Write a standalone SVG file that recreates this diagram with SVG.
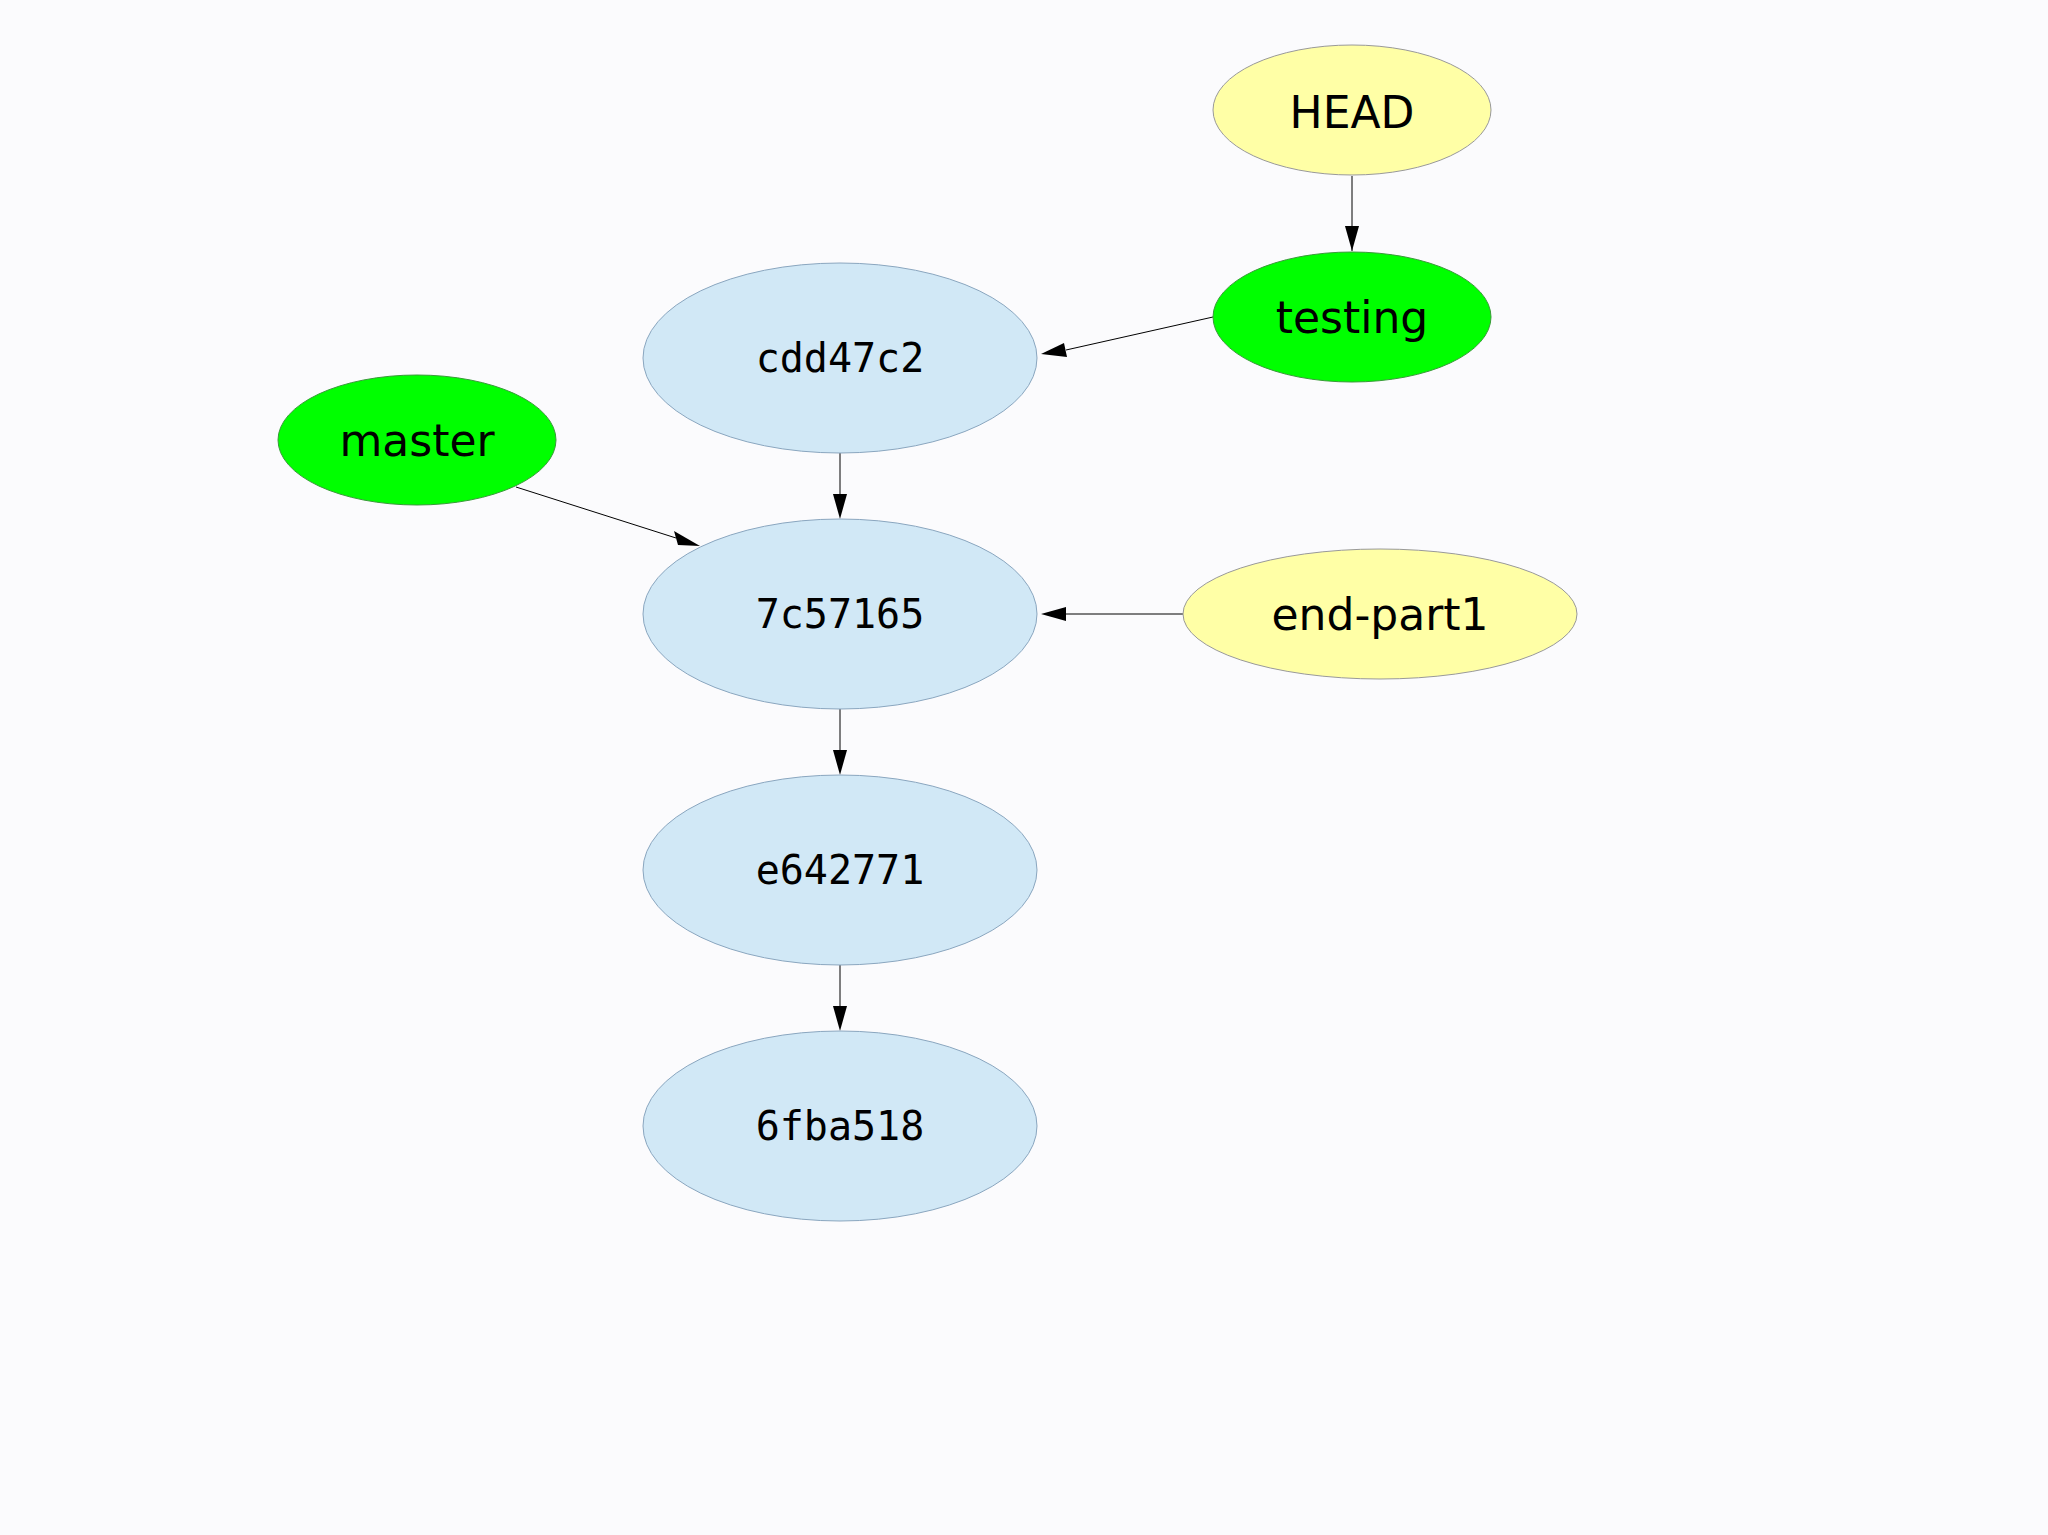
<svg xmlns="http://www.w3.org/2000/svg" width="2048" height="1535" viewBox="0 0 2048 1535">
<defs>
<marker id="ah" viewBox="0 0 10 10" refX="10" refY="5" markerWidth="10" markerHeight="10" markerUnits="userSpaceOnUse" orient="auto"><path d="M0,0 L10,5 L0,10 z" fill="#000"/></marker>
<style>
.e{stroke:#000;stroke-width:1;fill:none;marker-end:url(#ah)}
.c{fill:#d1e8f6;stroke:#8aa6bf;stroke-width:1}
.y{fill:#ffffa6;stroke:#999;stroke-width:1}
.g{fill:#00ff00;stroke:#3a9a3a;stroke-width:1}
.t{font-family:"DejaVu Sans",sans-serif;font-size:44px;text-anchor:middle;dominant-baseline:central;fill:#000}
.m{font-family:"DejaVu Sans Mono",monospace;font-size:40px;text-anchor:middle;dominant-baseline:central;fill:#000}
</style>
</defs>
<rect width="2048" height="1535" fill="#fbfbfd"/>
<g id="edges">
<line class="e" x1="1352" y1="176" x2="1352" y2="251" marker-end="url(#ah)" style="marker-end:none"/>
<path d="M1345,226 L1352,251 L1359,226 z"/>
<line x1="1213" y1="317" x2="1066" y2="350" stroke="#000"/>
<path d="M1041,354 L1064,343 L1067,357 z"/>
<line x1="516" y1="487" x2="676" y2="538" stroke="#000"/>
<path d="M700,546 L674,531 L678,545 z"/>
<line x1="1183" y1="614" x2="1066" y2="614" stroke="#000"/>
<path d="M1041,614 L1066,607 L1066,621 z"/>
<line x1="840" y1="453" x2="840" y2="494" stroke="#000"/>
<path d="M833,494 L840,519 L847,494 z"/>
<line x1="840" y1="709" x2="840" y2="750" stroke="#000"/>
<path d="M833,750 L840,775 L847,750 z"/>
<line x1="840" y1="965" x2="840" y2="1006" stroke="#000"/>
<path d="M833,1006 L840,1031 L847,1006 z"/>
</g>
<g id="HEAD"><ellipse class="y" cx="1352" cy="110" rx="139" ry="65"/><text class="t" x="1352" y="112">HEAD</text></g>
<g id="testing"><ellipse class="g" cx="1352" cy="317" rx="139" ry="65"/><text class="t" x="1352" y="317">testing</text></g>
<g id="master"><ellipse class="g" cx="417" cy="440" rx="139" ry="65"/><text class="t" x="417" y="440">master</text></g>
<g id="end-part1"><ellipse class="y" cx="1380" cy="614" rx="197" ry="65"/><text class="t" x="1380" y="614">end-part1</text></g>
<g id="cdd47c2"><ellipse class="c" cx="840" cy="358" rx="197" ry="95"/><text class="m" x="840" y="358">cdd47c2</text></g>
<g id="7c57165"><ellipse class="c" cx="840" cy="614" rx="197" ry="95"/><text class="m" x="840" y="614">7c57165</text></g>
<g id="e642771"><ellipse class="c" cx="840" cy="870" rx="197" ry="95"/><text class="m" x="840" y="870">e642771</text></g>
<g id="6fba518"><ellipse class="c" cx="840" cy="1126" rx="197" ry="95"/><text class="m" x="840" y="1126">6fba518</text></g>
</svg>
